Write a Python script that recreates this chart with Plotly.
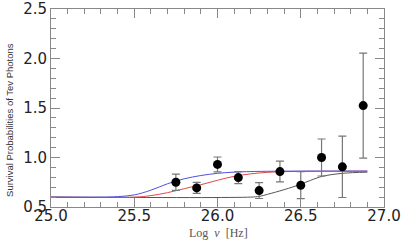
import plotly.graph_objects as go

# Observations
obs_x = [25.75, 25.875, 26.0, 26.125, 26.25, 26.375, 26.5, 26.625, 26.75, 26.875]
obs_y = [0.75, 0.693, 0.93, 0.797, 0.666, 0.858, 0.72, 1.0, 0.906, 1.524]
obs_err = [0.083, 0.056, 0.075, 0.06, 0.08, 0.105, 0.136, 0.187, 0.31, 0.53]

# Model curves
blue_x = [25.0, 25.3, 25.4, 25.5, 25.6, 25.7, 25.8, 25.9, 26.0, 26.1, 26.2, 26.4, 26.9]
blue_y = [0.6, 0.6, 0.605, 0.622, 0.67, 0.735, 0.785, 0.818, 0.84, 0.852, 0.858, 0.862, 0.863]

red_x = [25.0, 25.5, 25.6, 25.7, 25.8, 25.9, 26.0, 26.1, 26.2, 26.3, 26.4, 26.5, 26.9]
red_y = [0.6, 0.6, 0.615, 0.645, 0.685, 0.725, 0.77, 0.81, 0.835, 0.85, 0.857, 0.86, 0.862]

black_x = [25.0, 26.2, 26.25, 26.3, 26.4, 26.5, 26.56, 26.63, 26.75, 26.9]
black_y = [0.6, 0.6, 0.607, 0.628, 0.675, 0.73, 0.77, 0.81, 0.84, 0.852]

x_tickvals = [25.0, 25.5, 26.0, 26.5, 27.0]
x_ticktext = ["25.0", "25.5", "26.0", "26.5", "27.0"]
y_tickvals = [0.5, 1.0, 1.5, 2.0, 2.5]
y_ticktext = ["0.5", "1.0", "1.5", "2.0", "2.5"]

fig = go.Figure()
fig.add_trace(go.Scatter(x=black_x, y=black_y, mode="lines", line=dict(color="#555555", width=1, shape="spline"), showlegend=False))
fig.add_trace(go.Scatter(x=red_x, y=red_y, mode="lines", line=dict(color="#e04848", width=1, shape="spline"), showlegend=False))
fig.add_trace(go.Scatter(x=blue_x, y=blue_y, mode="lines", line=dict(color="#5050e0", width=1, shape="spline"), showlegend=False))
fig.add_trace(go.Scatter(
    x=obs_x, y=obs_y, mode="markers",
    marker=dict(color="black", size=9),
    error_y=dict(type="data", array=obs_err, visible=True, color="#777777", thickness=1.2, width=4),
    showlegend=False))

axis_common = dict(
    showgrid=False, zeroline=False, showline=True, linecolor="#888888", linewidth=1,
    mirror="allticks", ticks="inside", ticklen=9, tickcolor="#888888", tickwidth=1,
    tickfont=dict(family="DejaVu Sans, Verdana, sans-serif", size=15, color="#222222"),
    automargin=False,
)

fig.update_xaxes(
    range=[25.0, 27.0], tickvals=x_tickvals, ticktext=x_ticktext, ticklabelstandoff=-5,
    minor=dict(dtick=0.1, tick0=25.0, ticks="inside", ticklen=5, tickcolor="#888888", showgrid=False),
    **axis_common)
fig.update_yaxes(
    range=[0.5, 2.5], tickvals=y_tickvals, ticktext=y_ticktext,
    minor=dict(dtick=0.1, tick0=0.5, ticks="inside", ticklen=5, tickcolor="#888888", showgrid=False),
    **axis_common)

fig.add_annotation(
    text="Survival Probabilities of Tev Photons", textangle=-90,
    xref="paper", yref="paper", x=-0.123, y=0.44, xanchor="center", yanchor="middle",
    showarrow=False, font=dict(family="Liberation Sans, Arial, sans-serif", size=9.5, color="#333333"))
fig.add_annotation(
    text="Log  <i>ν</i>  [Hz]",
    xref="paper", yref="paper", x=0.503, y=-0.13, xanchor="center", yanchor="middle",
    showarrow=False, font=dict(family="Liberation Serif, DejaVu Serif, serif", size=12, color="#555555"))

fig.update_layout(
    width=407, height=243,
    margin=dict(l=51, r=23, t=9, b=36),
    paper_bgcolor="white", plot_bgcolor="white",
)

fig.write_html("out.html", config={"displayModeBar": False},
               post_script="document.body.style.margin='0';")
